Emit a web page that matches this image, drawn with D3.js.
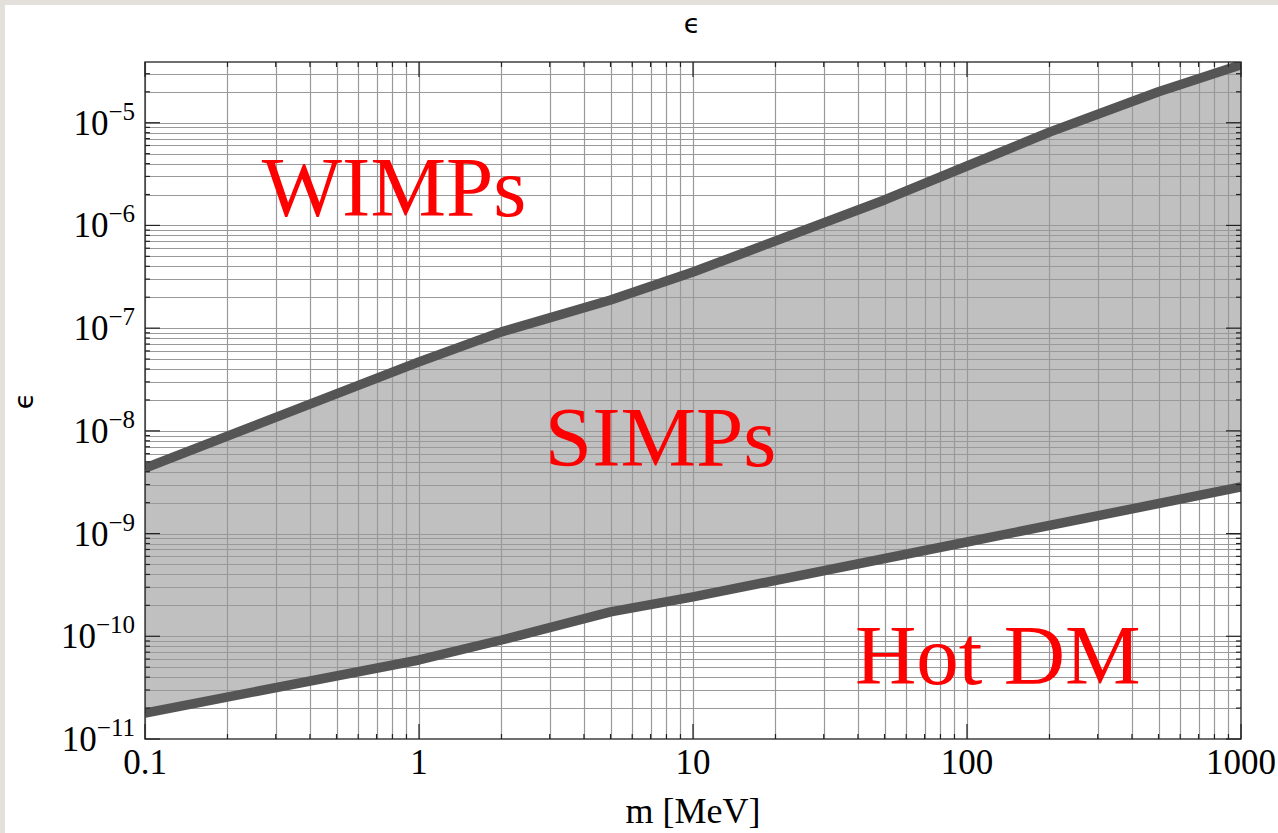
<!DOCTYPE html>
<html><head><meta charset="utf-8">
<script src="https://cdn.jsdelivr.net/npm/d3@7"></script>
<style>
html,body{margin:0;padding:0;background:#e3e0db;}
svg{display:block;}
</style></head>
<body>
<svg id="chart" width="1278" height="833"></svg>
<script>
// ---- data ----
const upperM   = [0.1, 1, 2, 5, 10, 50, 100, 200, 500, 1000];
const upperEps = [4.35e-9, 4.7e-8, 9.2e-8, 1.88e-7, 3.52e-7, 1.77e-6, 3.79e-6, 8.1e-6, 2.0e-5, 3.66e-5];
const lowerM   = [0.1, 1, 2, 5, 10, 100, 1000];
const lowerEps = [1.79e-11, 5.88e-11, 9.2e-11, 1.73e-10, 2.42e-10, 8.28e-10, 2.84e-9];
const xTickValues = [0.1, 1, 10, 100, 1000];
const xTickLabels = ["0.1", "1", "10", "100", "1000"];
const yTickExponents = [-11, -10, -9, -8, -7, -6, -5];
const regionLabels = ["WIMPs", "SIMPs", "Hot DM"];
const regionAnchors = [[0.267, 1.24e-6], [2.88, 4.55e-9], [39, 3.44e-11]];

// ---- layout ----
const svg = d3.select("#chart");
const L = 145, R = 1241, T = 62, B = 739;
svg.append("rect").attr("x",5).attr("y",5).attr("width",1273).attr("height",828).attr("fill","#fff");

const x = d3.scaleLog().domain([0.1, 1000]).range([L, R]);
const y = d3.scaleLog().domain([1e-11, 3.9e-5]).range([B, T]);

svg.append("clipPath").attr("id","clip").append("rect")
  .attr("x",L).attr("y",T).attr("width",R-L).attr("height",B-T);

// minor/major values
const xGrid = [];
for (let d = -1; d < 3; d++) for (let k = 1; k <= 9; k++) xGrid.push(k*Math.pow(10,d));
xGrid.push(1000);
const yGrid = [];
for (let d = -11; d <= -5; d++) for (let k = 1; k <= 9; k++) { const v = k*Math.pow(10,d); if (v <= 3.9e-5) yGrid.push(v); }

// fill region
const upper = upperM.map((m,i)=>[m, upperEps[i]]);
const lower = lowerM.map((m,i)=>[m, lowerEps[i]]);
const poly = upper.concat(lower.slice().reverse());
const g = svg.append("g").attr("clip-path","url(#clip)");
g.append("path")
  .attr("d", d3.line().x(d=>x(d[0])).y(d=>y(d[1]))(poly) + "Z")
  .attr("fill","#c0c0c0");

// grid
g.selectAll(".vg").data(xGrid).join("line")
  .attr("x1",d=>Math.round(x(d))+0.5).attr("x2",d=>Math.round(x(d))+0.5)
  .attr("y1",T).attr("y2",B).attr("stroke","#999").attr("stroke-width",1.2);
g.selectAll(".hg").data(yGrid).join("line")
  .attr("y1",d=>Math.round(y(d))+0.5).attr("y2",d=>Math.round(y(d))+0.5)
  .attr("x1",L).attr("x2",R).attr("stroke","#999").attr("stroke-width",1.2);

// boundary lines
const lineGen = d3.line().x(d=>x(d[0])).y(d=>y(d[1]));
[upper, lower].forEach(s => {
  g.append("path").attr("d", lineGen(s)).attr("fill","none")
    .attr("stroke","#555").attr("stroke-width",9.5).attr("stroke-linejoin","round");
});

// frame
svg.append("rect").attr("x",L).attr("y",T).attr("width",R-L).attr("height",B-T)
  .attr("fill","none").attr("stroke","#222").attr("stroke-width",1.3);

// inward ticks on all sides
const isMajor = v => Math.abs(Math.log10(v) - Math.round(Math.log10(v))) < 1e-9;
function ticks(sel, vals, scale, orient) {
  sel.selectAll("line").data(vals).join("line")
    .each(function(v){
      const len = isMajor(v) ? 15 : 5;
      const p = scale(v);
      const el = d3.select(this);
      if (orient==="left")   el.attr("x1",L).attr("x2",L+len).attr("y1",p).attr("y2",p);
      if (orient==="right")  el.attr("x1",R).attr("x2",R-len).attr("y1",p).attr("y2",p);
      if (orient==="bottom") el.attr("y1",B).attr("y2",B-len).attr("x1",p).attr("x2",p);
      if (orient==="top")    el.attr("y1",T).attr("y2",T+len).attr("x1",p).attr("x2",p);
    })
    .attr("stroke","#222").attr("stroke-width",1.2);
}
ticks(svg.append("g"), yGrid, y, "left");
ticks(svg.append("g"), yGrid, y, "right");
ticks(svg.append("g"), xGrid, x, "bottom");
ticks(svg.append("g"), xGrid, x, "top");

// tick labels
const serif = "'Liberation Serif', 'Times New Roman', serif";
svg.append("g").selectAll("text").data(yTickExponents).join("text")
  .attr("x", 135).attr("y", d => y(Math.pow(10,d)) + 12)
  .attr("text-anchor","end").attr("font-family",serif).attr("font-size",35).attr("fill","#000")
  .each(function(d){
    const t = d3.select(this);
    t.append("tspan").text("10");
    t.append("tspan").attr("dy",-15).attr("font-size",25).text("\u2212" + Math.abs(d));
  });
svg.append("g").selectAll("text").data(xTickValues).join("text")
  .attr("x", d => x(d)).attr("y", 774)
  .attr("text-anchor","middle").attr("font-family",serif).attr("font-size",35).attr("fill","#000")
  .text((d,i)=>xTickLabels[i]);

// axis titles
svg.append("text").attr("x", (L+R)/2).attr("y", 823).attr("text-anchor","middle")
  .attr("font-family",serif).attr("font-size",36).text("m [MeV]");
svg.append("text").attr("x", 692).attr("y", 33).attr("text-anchor","middle")
  .attr("font-family","'DejaVu Sans', sans-serif").attr("font-size",27).text("\u03F5");
svg.append("text").attr("transform","translate(33,401) rotate(-90)").attr("text-anchor","middle")
  .attr("font-family","'DejaVu Sans', sans-serif").attr("font-size",27).text("\u03F5");

// region labels
svg.append("g").selectAll("text").data(regionLabels).join("text")
  .attr("x",(d,i)=>x(regionAnchors[i][0])).attr("y",(d,i)=>y(regionAnchors[i][1]))
  .attr("font-family",serif).attr("font-size",85).attr("fill","#ff0000")
  .text(d=>d);
</script>
</body></html>
